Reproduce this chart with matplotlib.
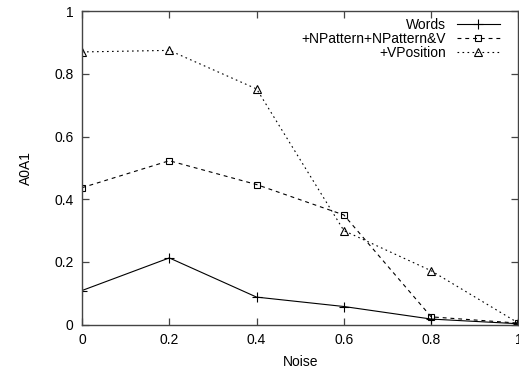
import matplotlib
matplotlib.use("Agg")
import matplotlib.pyplot as plt

plt.rcParams['font.family'] = ['Liberation Sans', 'DejaVu Sans']

noise = [0.0, 0.2, 0.4, 0.6, 0.8, 1.0]
words = [0.109, 0.213, 0.088, 0.058, 0.018, 0.003]
npattern = [0.437, 0.523, 0.447, 0.350, 0.025, 0.005]
vposition = [0.870, 0.875, 0.752, 0.300, 0.172, 0.005]
labels = ['Words', '+NPattern+NPattern&V', '+VPosition']

fig = plt.figure(figsize=(5.19, 3.73), dpi=100)
ax = fig.add_axes([0.158, 0.1295, 0.841, 0.8405])

ax.plot(noise, words, color='black', lw=0.8, ls='-', marker='+', ms=6.5,
        mew=0.8, label=labels[0])
ax.plot(noise, npattern, color='black', lw=0.8, ls=(0, (3.5, 3.5)), marker='s',
        ms=5, mfc='none', mew=0.8, label=labels[1])
ax.plot(noise, vposition, color='black', lw=0.8, ls=(0, (1.5, 3)), marker='^',
        ms=5.5, mfc='none', mew=0.8, label=labels[2])

ax.set_xlim(0, 1)
ax.set_ylim(0, 1)
ax.set_xticks([0, 0.2, 0.4, 0.6, 0.8, 1])
ax.set_xticklabels(['0', '0.2', '0.4', '0.6', '0.8', '1'])
ax.set_yticks([0, 0.2, 0.4, 0.6, 0.8, 1])
ax.set_yticklabels(['0', '0.2', '0.4', '0.6', '0.8', '1'])
ax.tick_params(direction='in', top=True, right=True, length=5, width=0.9,
               color='#444444', labelsize=10, pad=6)
for s in ax.spines.values():
    s.set_color('#444444')
    s.set_linewidth(1.0)

ax.set_xlabel('Noise', fontsize=10, labelpad=6)
ax.set_ylabel('A0A1', fontsize=10, labelpad=15)

ax.legend(loc='upper right', bbox_to_anchor=(0.976, 0.97),
          bbox_transform=fig.transFigure, frameon=False, markerfirst=False,
          fontsize=10, handlelength=3.1, handletextpad=0.75, labelspacing=0.0,
          borderpad=0)

fig.savefig('out.png', dpi=100)
